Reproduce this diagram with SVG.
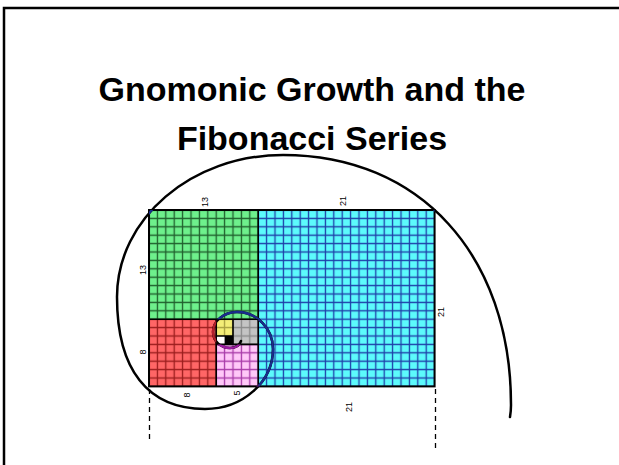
<svg xmlns="http://www.w3.org/2000/svg" width="619" height="465" viewBox="0 0 619 465">
<style>
.title{font-family:"Liberation Sans",Arial,sans-serif;font-weight:bold;font-size:34px;fill:#000;text-anchor:middle}
.lbl{font-family:"Liberation Sans",Arial,sans-serif;font-size:9px;fill:#000;text-anchor:middle;dominant-baseline:central}
.edge{fill:none;stroke:#000;stroke-width:1.6}
.dash{stroke:#000;stroke-width:1.3;stroke-dasharray:5 4;fill:none}
</style>
<defs>
<pattern id="pg" patternUnits="userSpaceOnUse" x="144.8" y="205.8" width="8.4" height="8.4"><rect width="8.4" height="8.4" fill="#6ef08c"/><path d="M4.2 0V8.4M0 4.2H8.4" stroke="#1f5e2c" stroke-width="1.3"/></pattern>
<pattern id="pc" patternUnits="userSpaceOnUse" x="144.8" y="205.8" width="8.4" height="8.4"><rect width="8.4" height="8.4" fill="#5cfafc"/><path d="M4.2 0V8.4M0 4.2H8.4" stroke="#1e3ea8" stroke-width="1.3"/></pattern>
<pattern id="pr" patternUnits="userSpaceOnUse" x="144.8" y="205.8" width="8.4" height="8.4"><rect width="8.4" height="8.4" fill="#ff6666"/><path d="M4.2 0V8.4M0 4.2H8.4" stroke="#9a1c1c" stroke-width="1.3"/></pattern>
<pattern id="pp" patternUnits="userSpaceOnUse" x="144.8" y="205.8" width="8.4" height="8.4"><rect width="8.4" height="8.4" fill="#ffc8f8"/><path d="M4.2 0V8.4M0 4.2H8.4" stroke="#a83aa8" stroke-width="1.3"/></pattern>
<pattern id="py" patternUnits="userSpaceOnUse" x="144.8" y="205.8" width="8.4" height="8.4"><rect width="8.4" height="8.4" fill="#f4ee78"/><path d="M4.2 0V8.4M0 4.2H8.4" stroke="#a8a040" stroke-width="1.3"/></pattern>
<pattern id="pa" patternUnits="userSpaceOnUse" x="144.8" y="205.8" width="8.4" height="8.4"><rect width="8.4" height="8.4" fill="#c4c4c4"/><path d="M4.2 0V8.4M0 4.2H8.4" stroke="#8a8a8a" stroke-width="1.3"/></pattern>
<path id="spiral" d="M241 341C239 347 234 348 230 348C220.6 348 213 340.8 213 332C213 321 223.8 312 237 312C256.9 312 273 328.6 273 349C273 382.1 242.5 409 205 409C147.8 409 117 369.8 117 297C117 218.6 191.4 155 283 155C419.8 155 511 255 511 405C511 410 510.5 414 510 417"/>
<clipPath id="cRed"><rect x="149" y="319.2" width="67.2" height="67.2"/></clipPath>
<clipPath id="cPink"><rect x="216.2" y="344.4" width="42" height="42"/></clipPath>
<clipPath id="cBlue"><path d="M149 210H434.6V386.4H258.2V319.2H149Z"/></clipPath>
</defs>
<rect width="619" height="465" fill="#fff"/>
<rect x="4" y="8" width="640" height="480" fill="none" stroke="#000" stroke-width="2.5"/>
<g id="title">
<text class="title" x="312" y="101">Gnomonic Growth and the</text>
<text class="title" x="312" y="150">Fibonacci Series</text>
</g>
<g id="squares">
<g id="sq21"><rect x="258.2" y="210" width="176.4" height="176.4" fill="url(#pc)"/></g>
<g id="sq13"><rect x="149" y="210" width="109.2" height="109.2" fill="url(#pg)"/></g>
<g id="sq8"><rect x="149" y="319.2" width="67.2" height="67.2" fill="url(#pr)"/></g>
<g id="sq5"><rect x="216.2" y="344.4" width="42" height="42" fill="url(#pp)"/></g>
<g id="sq3"><rect x="233" y="319.2" width="25.2" height="25.2" fill="url(#pa)"/></g>
<g id="sq2"><rect x="216.2" y="319.2" width="16.8" height="16.8" fill="url(#py)"/></g>
<g id="sq1a"><rect x="216.2" y="336" width="8.4" height="8.4" fill="#fff"/></g>
<g id="sq1b"><rect x="224.6" y="336" width="8.4" height="8.4" fill="#000"/></g>
<path class="edge" d="M258.2 210V386.4M149 319.2H258.2M216.2 319.2V386.4M216.2 344.4H258.2M233 319.2V344.4M216.2 336H233"/>
<rect x="149" y="210" width="285.6" height="176.4" fill="none" stroke="#000" stroke-width="2"/>
</g>
<g id="spiral-curve" fill="none" stroke-linecap="round">
<use href="#spiral" stroke="#000" stroke-width="2.5"/>
<use href="#spiral" stroke="#1a2c8c" stroke-width="2.3" clip-path="url(#cBlue)"/>
<use href="#spiral" stroke="#b01e2a" stroke-width="2.3" clip-path="url(#cRed)"/>
<use href="#spiral" stroke="#9a1aa0" stroke-width="2.3" clip-path="url(#cPink)"/>
</g>
<g id="dashes">
<path class="dash" d="M149.5 389V442"/>
<path class="dash" d="M435.5 389V448"/>
</g>
<g id="labels">
<text class="lbl" transform="translate(205,202) rotate(-90)">13</text>
<text class="lbl" transform="translate(343,201) rotate(-90)">21</text>
<text class="lbl" transform="translate(143,270) rotate(-90)">13</text>
<text class="lbl" transform="translate(143,352) rotate(-90)">8</text>
<text class="lbl" transform="translate(441,312) rotate(-90)">21</text>
<text class="lbl" transform="translate(187,395) rotate(-90)">8</text>
<text class="lbl" transform="translate(237,393) rotate(-90)">5</text>
<text class="lbl" transform="translate(349,407) rotate(-90)">21</text>
</g>
</svg>
